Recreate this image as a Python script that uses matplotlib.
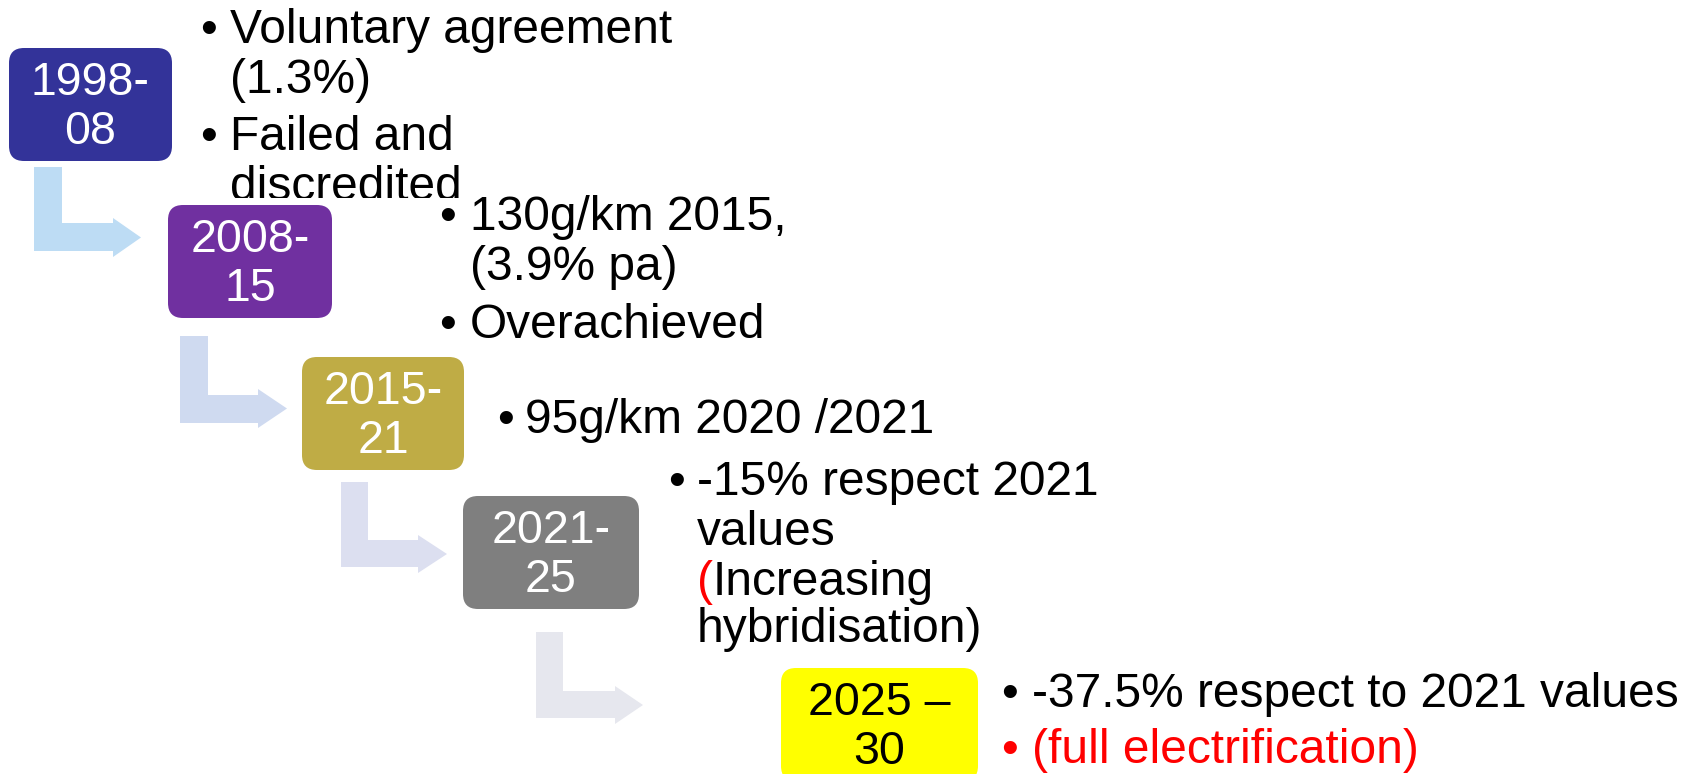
import matplotlib
matplotlib.use("Agg")
import matplotlib.pyplot as plt
from matplotlib.patches import FancyBboxPatch, Polygon, Rectangle

plt.rcParams['font.family'] = ['Liberation Sans', 'DejaVu Sans']

# period labels (two lines each)
periods = [("1998-", "08"), ("2008-", "15"), ("2015-", "21"), ("2021-", "25"), ("2025 –", "30")]
box_colors = ["#333399", "#7030A0", "#BFAC45", "#7F7F7F", "#FFFF00"]
label_colors = ["white", "white", "white", "white", "black"]

# bullet notes: one list per period, each bullet is a list of lines
notes = [
    [["Voluntary agreement", "(1.3%)"], ["Failed and", "discredited"]],
    [["130g/km 2015,", "(3.9% pa)"], ["Overachieved"]],
    [["95g/km 2020 /2021"]],
    [["-15% respect 2021", "values", "(Increasing", "hybridisation)"]],
    [["-37.5% respect to 2021 values"], ["(full electrification)"]],
]
red_lines = ["(full electrification)"]
red_paren_lines = ["(Increasing"]
arrow_colors = ["#BDDCF4", "#CFDAF0", "#DCDFF0", "#E6E7EE"]

# layout (pixels, y down)
box_x = [9, 168, 302, 463, 781]
box_y = [48, 205, 357, 496, 668]
box_w = [163, 164, 162, 176, 197]
box_h = 113
bullet_x = [200, 439, 497, 668, 1001]
text_x = [230, 470, 525, 697, 1032]
baselines = [[43, 93, 150, 200], [230, 280, 338], [433], [495, 545, 595, 642], [707, 763]]
# x0, stem width, top, bar top, head start, tip, head top, head bottom
arrows = [
    (34, 28, 167, 223, 113, 141, 218, 257),
    (180, 28, 336, 395, 258, 287, 389, 428),
    (341, 27, 482, 540, 418, 447, 535, 573),
    (536, 27, 632, 691, 615, 643, 686, 724),
]

fig = plt.figure(figsize=(16.94, 7.74), dpi=100)
ax = fig.add_axes([0, 0, 1, 1])
ax.set_xlim(0, 1694)
ax.set_ylim(774, 0)
ax.axis("off")

for (x0, w, top, bar, hx, tip, ht, hb), c in zip(arrows, arrow_colors):
    pts = [(x0, top), (x0 + w, top), (x0 + w, bar), (hx, bar), (hx, ht),
           (tip, (ht + hb) / 2), (hx, hb), (hx, bar + w), (x0, bar + w)]
    ax.add_patch(Polygon(pts, closed=True, facecolor=c, edgecolor="none"))

for i, (l1, l2) in enumerate(periods):
    ax.add_patch(FancyBboxPatch((box_x[i], box_y[i]), box_w[i], box_h,
                                boxstyle="round,pad=0,rounding_size=15",
                                facecolor=box_colors[i], edgecolor="none"))
    cx = box_x[i] + box_w[i] / 2
    ax.text(cx, box_y[i] + 47, l1, ha="center", va="baseline", fontsize=33.5, color=label_colors[i])
    ax.text(cx, box_y[i] + 96, l2, ha="center", va="baseline", fontsize=33.5, color=label_colors[i])

fs = 34.5
renderer = fig.canvas.get_renderer()
clip = Rectangle((0, 0), 1694, 198, transform=ax.transData)
for i, group in enumerate(notes):
    k = 0
    for bullet in group:
        for j, line in enumerate(bullet):
            y = baselines[i][k]
            k += 1
            col = "red" if line in red_lines else "black"
            arts = []
            if j == 0:
                arts.append(ax.text(bullet_x[i], y, "•", va="baseline", fontsize=fs, color=col))
            if line in red_paren_lines:
                p = ax.text(text_x[i], y, line[0], va="baseline", fontsize=fs, color="red")
                wpx = p.get_window_extent(renderer).width
                arts.append(p)
                arts.append(ax.text(text_x[i] + wpx, y, line[1:], va="baseline", fontsize=fs, color=col))
            else:
                arts.append(ax.text(text_x[i], y, line, va="baseline", fontsize=fs, color=col))
            if i == 0:
                for a in arts:
                    a.set_clip_path(clip)
                    a.set_clip_on(True)

fig.savefig("out.png", dpi=100)
